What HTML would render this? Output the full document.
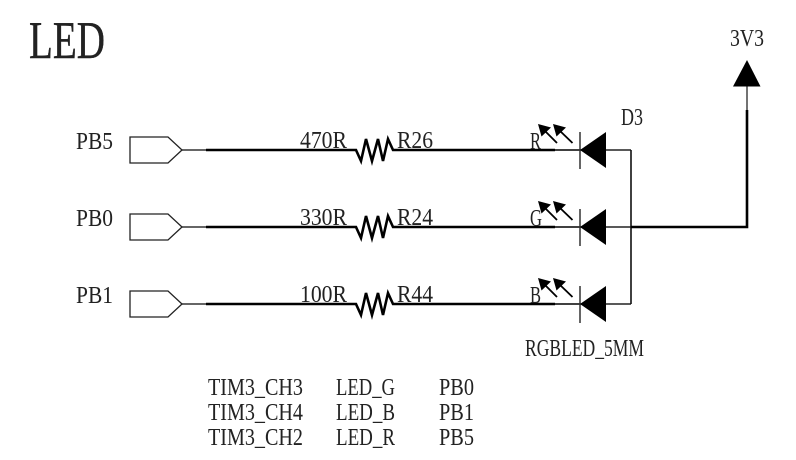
<!DOCTYPE html>
<html><head><meta charset="utf-8"><style>
html,body{margin:0;padding:0;background:#fff;width:796px;height:460px;overflow:hidden}
svg{display:block}
text{font-family:"Liberation Serif",serif;font-size:24px;fill:#222}
</style></head><body>
<svg width="796" height="460" viewBox="0 0 796 460" xmlns="http://www.w3.org/2000/svg">
<defs>
<g id="row">
<path d="M182 150H206" stroke="#333" stroke-width="1.5" fill="none"/>
<path d="M130 137H168L182 150L168 163H130Z" stroke="#222" stroke-width="1.3" fill="#fff"/>
<path d="M206 150H356L361 161L366 139L372 161L378 139L383 161L388 139L393 150H555" stroke="#000" stroke-width="2.6" fill="none" stroke-linejoin="miter"/>
<path d="M555 150H606" stroke="#000" stroke-width="1.4" fill="none"/>
<path d="M580 132V169" stroke="#333" stroke-width="1.5"/>
<path d="M580 150L606 132V168Z" fill="#000"/>
<path d="M606 150H631" stroke="#222" stroke-width="1.5"/>
<path d="M557 143L543 129M572.500 143L558 129" stroke="#000" stroke-width="1.8"/>
<path d="M538 124L551 127.500L541.500 136.500ZM553 124L566 127.500L556.500 136.500Z" fill="#000"/>
</g>
</defs>
<use href="#row"/>
<use href="#row" y="77"/>
<use href="#row" y="154"/>
<path d="M631 150V304" stroke="#111" stroke-width="1.6" fill="none"/>
<path d="M631 227H747V110" stroke="#000" stroke-width="2.6" fill="none"/>
<path d="M747 110V84" stroke="#444" stroke-width="1.5" fill="none"/>
<path d="M747 60L760.500 86.500H733Z" fill="#000"/>

<text x="29" y="58" style="font-size:53px;stroke:#222;stroke-width:.4" textLength="76" lengthAdjust="spacingAndGlyphs">LED</text>
<text x="730" y="46" textLength="34" lengthAdjust="spacingAndGlyphs">3V3</text>
<text x="621" y="125" textLength="22" lengthAdjust="spacingAndGlyphs">D3</text>
<text x="530" y="149" textLength="11" lengthAdjust="spacingAndGlyphs">R</text>
<text x="530" y="226" textLength="12" lengthAdjust="spacingAndGlyphs">G</text>
<text x="530" y="303" textLength="11" lengthAdjust="spacingAndGlyphs">B</text>
<text x="525" y="356" textLength="119" lengthAdjust="spacingAndGlyphs">RGBLED_5MM</text>

<text x="76" y="149" textLength="37" lengthAdjust="spacingAndGlyphs">PB5</text>
<text x="76" y="226" textLength="37" lengthAdjust="spacingAndGlyphs">PB0</text>
<text x="76" y="303" textLength="37" lengthAdjust="spacingAndGlyphs">PB1</text>

<text x="300" y="148" textLength="47" lengthAdjust="spacingAndGlyphs">470R</text>
<text x="300" y="225" textLength="47" lengthAdjust="spacingAndGlyphs">330R</text>
<text x="300" y="302" textLength="47" lengthAdjust="spacingAndGlyphs">100R</text>
<text x="397" y="148" textLength="36" lengthAdjust="spacingAndGlyphs">R26</text>
<text x="397" y="225" textLength="36" lengthAdjust="spacingAndGlyphs">R24</text>
<text x="397" y="302" textLength="36" lengthAdjust="spacingAndGlyphs">R44</text>

<text x="208" y="395" textLength="95" lengthAdjust="spacingAndGlyphs">TIM3_CH3</text>
<text x="208" y="420" textLength="95" lengthAdjust="spacingAndGlyphs">TIM3_CH4</text>
<text x="208" y="445" textLength="95" lengthAdjust="spacingAndGlyphs">TIM3_CH2</text>
<text x="336" y="395" textLength="59" lengthAdjust="spacingAndGlyphs">LED_G</text>
<text x="336" y="420" textLength="59" lengthAdjust="spacingAndGlyphs">LED_B</text>
<text x="336" y="445" textLength="59" lengthAdjust="spacingAndGlyphs">LED_R</text>
<text x="439" y="395" textLength="35" lengthAdjust="spacingAndGlyphs">PB0</text>
<text x="439" y="420" textLength="35" lengthAdjust="spacingAndGlyphs">PB1</text>
<text x="439" y="445" textLength="35" lengthAdjust="spacingAndGlyphs">PB5</text>
</svg>
</body></html>
